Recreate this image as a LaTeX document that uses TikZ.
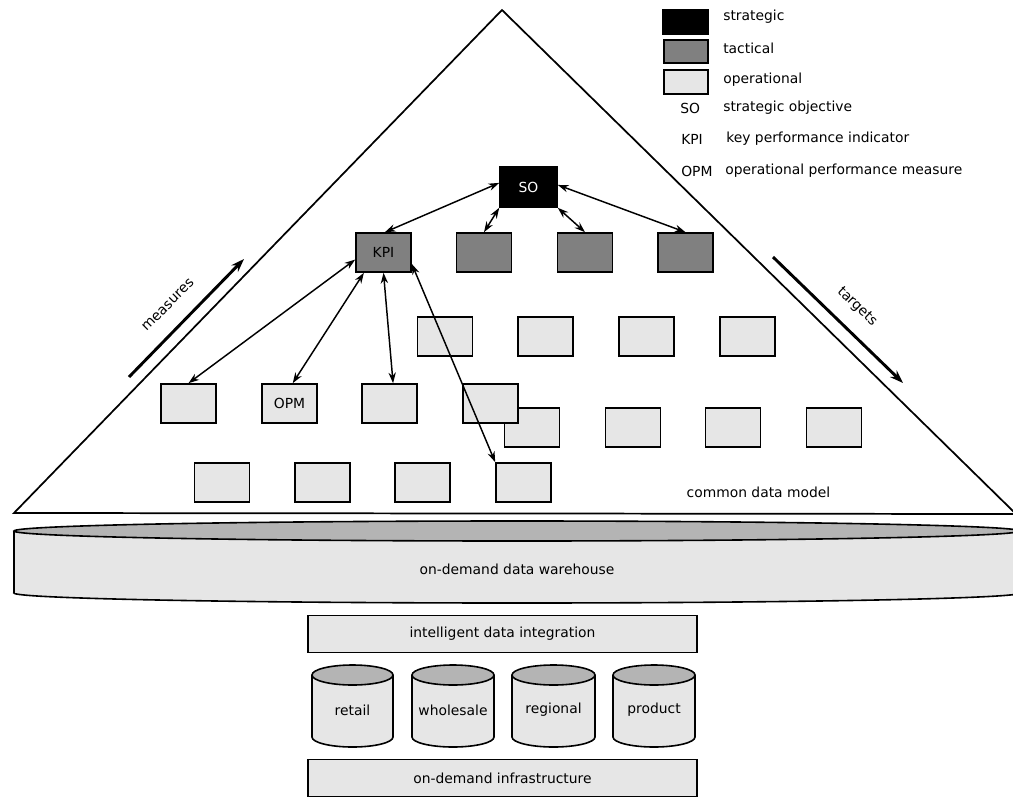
\documentclass[tikz,border=0pt]{standalone}
\usepackage{fontspec}
\setmainfont{DejaVu Sans}
\usetikzlibrary{arrows.meta}
\definecolor{opfill}{HTML}{E6E6E6}
\definecolor{tacfill}{HTML}{808080}
\definecolor{capfill}{HTML}{B4B4B4}

% database drum: centre x, x radius, top y, bottom y, y radius
\newcommand\dbcyl[5]{%
  \draw[cylline, fill=opfill] (#1,#4) ellipse [x radius=#2, y radius=#5];
  \fill[opfill] (#1-#2,#3) rectangle (#1+#2,#4);
  \draw[cylline] (#1-#2,#3) -- (#1-#2,#4) (#1+#2,#3) -- (#1+#2,#4);
  \draw[cylline, fill=capfill] (#1,#3) ellipse [x radius=#2, y radius=#5];
}

\begin{document}
\begin{tikzpicture}[x=0.75pt,y=-0.75pt,
  every node/.style={font=\fontsize{10.4}{12}\selectfont},
  blk/.style={draw=black, line width=1.2pt, inner sep=0pt,
              minimum width=41.25pt, minimum height=29.25pt},
  opbox/.style={blk, fill=opfill},
  tacbox/.style={blk, fill=tacfill},
  stratbox/.style={blk, fill=black, text=white,
              minimum width=42.75pt, minimum height=30pt},
  link/.style={line width=1.1pt, {Stealth[length=8pt,width=5.5pt]}-{Stealth[length=8pt,width=5.5pt]}},
  flow/.style={line width=2.2pt, -{Stealth[length=10pt,width=7pt]}},
  cylline/.style={line width=1.2pt},
  band/.style={draw=black, line width=1.2pt, fill=opfill, inner sep=0pt,
              minimum width=291.75pt, minimum height=28pt},
  lg/.style={anchor=west, inner sep=0pt},
]
\useasboundingbox (0,0) rectangle (1013,796);
\clip (0,0) rectangle (1013,796);

% pyramid
\draw[line width=1.3pt, line join=miter] (502,10) -- (1016,514) -- (14,513) -- cycle;

% legend
\node[blk, fill=black, minimum width=33.75pt, minimum height=18pt] (lgs) at (685.5,22) {};
\node[blk, fill=tacfill, minimum width=33pt, minimum height=17pt] (lgt) at (686,51.5) {};
\node[blk, fill=opfill, minimum width=33pt, minimum height=18pt] (lgo) at (686,82) {};
\node[lg] (lgst) at (723,17) {strategic};
\node[lg] (lgtt) at (723,48) {tactical};
\node[lg] (lgot) at (723,80) {operational};
\node[lg] (lgso) at (680,108) {SO};
\node[lg] (lgsot) at (723,108) {strategic objective};
\node[lg] (lgkpi) at (681,139) {KPI};
\node[lg] (lgkpit) at (726,139) {key performance indicator};
\node[lg] (lgopm) at (681,171) {OPM};
\node[lg] (lgopmt) at (725,171) {operational performance measure};

% strategic and tactical level
\node[stratbox] (so) at (528.5,187) {SO};
\node[tacbox] (kpi) at (383.5,252.5) {KPI};
\node[tacbox] (t2) at (484,252.5) {};
\node[tacbox] (t3) at (585,252.5) {};
\node[tacbox] (t4) at (685.5,252.5) {};

% operational level
\node[opbox] (a1) at (445,336.5) {};
\node[opbox] (a2) at (545.5,336.5) {};
\node[opbox] (a3) at (646.5,336.5) {};
\node[opbox] (a4) at (747.5,336.5) {};
\node[opbox] (c1) at (532,427.5) {};
\node[opbox] (c2) at (633,427.5) {};
\node[opbox] (c3) at (733,427.5) {};
\node[opbox] (c4) at (834,427.5) {};
\node[opbox] (b1) at (188.5,403.5) {};
\node[opbox] (opm) at (289.5,403.5) {OPM};
\node[opbox] (b3) at (389.5,403.5) {};
\node[opbox] (b4) at (490.5,403.5) {};
\node[opbox] (d1) at (222,482.5) {};
\node[opbox] (d2) at (322.5,482.5) {};
\node[opbox] (d3) at (422.5,482.5) {};
\node[opbox] (d4) at (523.5,482.5) {};

% links
\draw[link] (so.172) -- (kpi.86);
\draw[link] (so.south west) -- (t2.north);
\draw[link] (so.south east) -- (t3.north);
\draw[link] (so.4) -- (t4.north);
\draw[link] (kpi.194) -- (b1.north);
\draw[link] (kpi.226) -- (opm.81);
\draw[link] (kpi.south) -- (b3.80);
\draw[link] (kpi.338) -- (d4.north west);

% measures / targets
\coordinate (m0) at (129,377);
\coordinate (m1) at (244,259);
\draw[flow] (m0) -- (m1);
\node[rotate=45, inner sep=0pt] (meas) at (168,305) {measures};
\coordinate (t0) at (773,257);
\coordinate (t1) at (903,383);
\draw[flow] (t0) -- (t1);
\node[rotate=-44, inner sep=0pt] (targ) at (857,307) {targets};

\node (cdm) at (758.5,492) {common data model};

% data warehouse
\dbcyl{517}{503}{531}{593}{10}
\node (dwh) at (517,569) {on-demand data warehouse};

% integration layer
\node[band] (idi) at (502.5,634) {intelligent data integration};

\dbcyl{352.5}{40.5}{675}{737}{10}
\dbcyl{453}{41}{675}{737}{10}
\dbcyl{553.5}{41.5}{675}{737}{10}
\dbcyl{654}{41}{675}{737}{10}
\node (retail) at (352.5,710) {retail};
\node (whole) at (453,710) {wholesale};
\node (region) at (553.5,710) {regional};
\node (prod) at (654,710) {product};

\node[band] (infra) at (502.5,778) {on-demand infrastructure};
\end{tikzpicture}
\end{document}
